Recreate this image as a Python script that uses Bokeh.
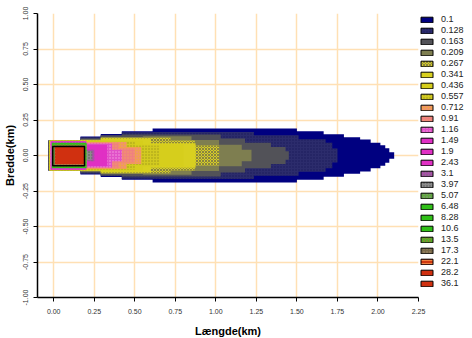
from bokeh.plotting import figure
from bokeh.models import Legend, LegendItem, FixedTicker, PrintfTickFormatter, Range1d, ColumnDataSource
from bokeh.embed import file_html
from bokeh.resources import INLINE

# Concentration levels (legend labels)
levels = ["0.1", "0.128", "0.163", "0.209", "0.267", "0.341", "0.436", "0.557", "0.712",
          "0.91", "1.16", "1.49", "1.9", "2.43", "3.1", "3.97", "5.07", "6.48", "8.28",
          "10.6", "13.5", "17.3", "22.1", "28.2", "36.1"]

fill_colors = ["#000080", "#2C2C6C", "#525258", "#7E7E50", "#D4CC28", "#D8D020", "#D6CE1C",
               "#D2CA20", "#F0A050", "#F08080", "#E050C8", "#E030C4", "#E030C4", "#E030C4",
               "#A850A8", "#8C8C8C", "#60A840", "#30C018", "#30C018", "#30C018", "#48B428",
               "#786848", "#D03810", "#D03010", "#D03010"]

hatch_patterns = [None, ".", None, None, "x", None, None, ".", ".", ".", ".", None, None, None,
                  ".", ".", ".", None, None, None, "x", ".", "-", None, None]

hatch_colors = ["#000080", "#1A1A58", "#525258", "#7E7E50", "#8A8440", "#D8D020", "#D6CE1C",
                "#A09818", "#F080A0", "#F0A060", "#F8A0E0", "#E030C4", "#E030C4", "#E030C4",
                "#707070", "#505050", "#909090", "#30C018", "#30C018", "#30C018", "#809030",
                "#A89070", "#F08040", "#D03010", "#D03010"]

# Step outlines of each contour: x edges (km) and half widths (km) per step
x_edges = [
    [-0.035, 0.165, 0.29, 0.42, 0.61, 1.50, 1.665, 1.79, 1.89, 1.955, 2.015, 2.045, 2.07, 2.10],
    [-0.033, 0.165, 0.29, 0.42, 0.61, 1.235, 1.51, 1.677, 1.718, 1.75],
    [-0.031, 0.165, 0.29, 0.42, 1.03, 1.18, 1.34, 1.43, 1.45],
    [-0.03, 0.165, 0.29, 0.55, 0.85, 1.02, 1.16, 1.22],
    [-0.03, 0.165, 0.29, 0.55, 0.72, 0.87, 1.02],
    [-0.028, 0.165, 0.29, 0.6, 0.875],
    [-0.026, 0.2, 0.55, 0.8],
    [-0.024, 0.2, 0.5, 0.65],
    [-0.022, 0.18, 0.45, 0.54],
    [-0.02, 0.2, 0.4, 0.5],
    [-0.02, 0.2, 0.36, 0.42],
    [-0.018, 0.2, 0.33],
    [-0.016, 0.2, 0.3],
    [-0.015, 0.2, 0.27],
    [-0.013, 0.2, 0.25],
    [-0.012, 0.2, 0.235],
    [-0.011, 0.205],
    [-0.01, 0.2],
    [-0.008, 0.199],
    [-0.006, 0.198],
    [-0.004, 0.196],
    [0.004, 0.19],
    [0.008, 0.188],
    [0.01, 0.186],
    [0.012, 0.184],
]

half_widths = [
    [0.105, 0.134, 0.151, 0.171, 0.190, 0.171, 0.150, 0.129, 0.113, 0.089, 0.073, 0.051, 0.023],
    [0.105, 0.128, 0.145, 0.163, 0.166, 0.143, 0.115, 0.089, 0.049],
    [0.105, 0.12, 0.14, 0.148, 0.12, 0.09, 0.06, 0.03],
    [0.105, 0.115, 0.13, 0.135, 0.11, 0.075, 0.04],
    [0.105, 0.11, 0.125, 0.125, 0.105, 0.07],
    [0.105, 0.108, 0.12, 0.087],
    [0.104, 0.105, 0.08],
    [0.103, 0.1, 0.07],
    [0.102, 0.095, 0.06],
    [0.101, 0.09, 0.05],
    [0.1, 0.085, 0.04],
    [0.1, 0.075],
    [0.097, 0.06],
    [0.094, 0.05],
    [0.091, 0.04],
    [0.089, 0.03],
    [0.088],
    [0.087],
    [0.086],
    [0.085],
    [0.08],
    [0.068],
    [0.062],
    [0.06],
    [0.058],
]

# Source area outline (km)
source_x = [-0.006, 0.19]
source_y = [-0.072, 0.064]

x_ticks = [0.0, 0.25, 0.5, 0.75, 1.0, 1.25, 1.5, 1.75, 2.0, 2.25]
y_ticks = [-1.0, -0.75, -0.5, -0.25, 0.0, 0.25, 0.5, 0.75, 1.0]

FONT = "Liberation Sans"

p = figure(frame_width=381, frame_height=284, x_range=Range1d(-0.1, 2.25), y_range=Range1d(-1.0, 1.0),
           output_backend="svg", toolbar_location=None, title=None,
           min_border_left=37, min_border_right=54, min_border_top=13, min_border_bottom=41)
p.outline_line_color = None
p.background_fill_color = "white"


def step_outline(xe, hw):
    tx, ty = [], []
    for i, h in enumerate(hw):
        tx += [xe[i], xe[i + 1]]
        ty += [h, h]
    return tx + tx[::-1], ty + [-v for v in ty[::-1]]


nan = float("nan")
items = []
for i, lab in enumerate(levels):
    xs, ys = step_outline(x_edges[i], half_widths[i])
    hp = hatch_patterns[i]
    kw = dict(fill_color=fill_colors[i], line_color=None)
    lkw = dict(fill_color=fill_colors[i], line_color="black", line_width=1)
    if hp:
        kw.update(hatch_pattern=hp, hatch_color=hatch_colors[i], hatch_scale=3, hatch_weight=1)
        lkw.update(hatch_pattern=hp, hatch_color=hatch_colors[i], hatch_scale=3, hatch_weight=1)
    p.patch(xs, ys, **kw)
    # legend-only swatch (no visible mark in the plot area)
    proxy = p.quad(source=ColumnDataSource(dict(l=[nan], r=[nan], t=[nan], b=[nan])),
                   left="l", right="r", top="t", bottom="b", **lkw)
    items.append(LegendItem(label=lab, renderers=[proxy]))

p.quad(left=[source_x[0]], right=[source_x[1]], bottom=[source_y[0]], top=[source_y[1]],
       fill_color=None, line_color="black", line_width=1.5)

legend = Legend(items=items, location="top_left", margin=1, padding=0, spacing=1,
                glyph_width=15, glyph_height=7, label_height=10, label_standoff=7,
                label_text_font=FONT, label_text_font_size="9px", label_text_color="#222222",
                border_line_color=None, background_fill_alpha=0)
p.add_layout(legend, "right")

for ax in (p.xaxis, p.yaxis):
    ax.axis_line_color = "black"
    ax.axis_line_width = 1.5
    ax.major_tick_line_color = "black"
    ax.major_tick_in = 0
    ax.major_tick_out = 4
    ax.minor_tick_line_color = None
    ax.major_label_text_font = FONT
    ax.major_label_text_font_size = "7px"
    ax.major_label_text_color = "#333333"
    ax.axis_label_text_font = FONT
    ax.axis_label_text_font_size = "11px"
    ax.axis_label_text_font_style = "bold"
    ax.axis_label_text_color = "black"
    ax.formatter = PrintfTickFormatter(format="%.2f")

p.xaxis.ticker = FixedTicker(ticks=x_ticks)
p.yaxis.ticker = FixedTicker(ticks=y_ticks)
p.xaxis.axis_label = "Længde(km)"
p.yaxis.axis_label = "Bredde(km)"
p.yaxis.major_label_orientation = "vertical"
p.xaxis.major_label_standoff = 7
p.xaxis.axis_label_standoff = 8
p.yaxis.major_label_standoff = 6
p.yaxis.axis_label_standoff = 4

p.xgrid.ticker = FixedTicker(ticks=x_ticks)
p.ygrid.ticker = FixedTicker(ticks=y_ticks)
p.grid.grid_line_color = "#FFE0B4"
p.grid.grid_line_width = 1.5

open("out.html", "w").write(file_html(p, INLINE))
